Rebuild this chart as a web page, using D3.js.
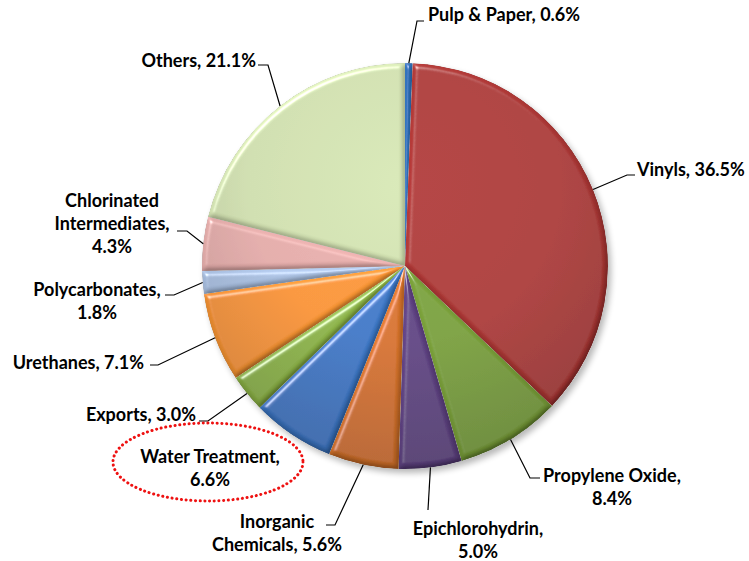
<!DOCTYPE html>
<html><head><meta charset="utf-8">
<script src="https://cdn.jsdelivr.net/npm/d3@7"></script>
<style>
html,body{margin:0;padding:0;background:#fff;}
text{font-family:Lato,"Open Sans",sans-serif;font-weight:700;font-size:18px;fill:#000;}
</style></head>
<body><svg id="chart" width="749" height="561"></svg>
<script>
const categories = ["Pulp & Paper","Vinyls","Propylene Oxide","Epichlorohydrin","Inorganic Chemicals","Water Treatment","Exports","Urethanes","Polycarbonates","Chlorinated Intermediates","Others"];
const values = [0.6,36.5,8.4,5.0,5.6,6.6,3.0,7.1,1.8,4.3,21.1];
const valueLabels = ["0.6%","36.5%","8.4%","5.0%","5.6%","6.6%","3.0%","7.1%","1.8%","4.3%","21.1%"];
const colors = ["#2F6EB5","#AB3735","#7AA03A","#604384","#D6732A","#3D78C6","#8DB447","#F79433","#A9BFE0","#E2ABA9","#CEDDAE"];

// label layout: text lines, anchor, position, leader elbow
const labelLayout = [
  {lines:["Pulp & Paper, 0.6%"], anchor:"start", x:428, y:15, elbow:[[417,21],[424,21]]},
  {lines:["Vinyls, 36.5%"], anchor:"start", x:637, y:170, elbow:[[627,175],[635,175]]},
  {lines:["Propylene Oxide,","8.4%"], anchor:"middle", x:612, y:476, elbow:[[530,478],[540,478]]},
  {lines:["Epichlorohydrin,","5.0%"], anchor:"middle", x:478, y:529, elbow:[[428,510]]},
  {lines:["Inorganic","Chemicals, 5.6%"], anchor:"middle", x:277, y:522, elbow:[[335,525],[326,525]]},
  {lines:["Water Treatment,","6.6%"], anchor:"middle", x:210, y:457, elbow:null},
  {lines:["Exports, 3.0%"], anchor:"end", x:196, y:415, elbow:[[208,421],[199,421]]},
  {lines:["Urethanes, 7.1%"], anchor:"end", x:144, y:363, elbow:[[158,365],[150,365]]},
  {lines:["Polycarbonates,","1.8%"], anchor:"middle", x:97, y:290, elbow:[[174,295],[165,295]]},
  {lines:["Chlorinated","Intermediates,","4.3%"], anchor:"middle", x:112, y:201, elbow:[[187,231],[177,231]]},
  {lines:["Others, 21.1%"], anchor:"end", x:256, y:61, elbow:[[268,65],[258,65]]}
];

const svg = d3.select("#chart");
const cx = 405, cy = 266, r = 203;
const defs = svg.append("defs");

// bevel filter
const f = defs.append("filter").attr("id","bevel").attr("x","-5%").attr("y","-5%").attr("width","110%").attr("height","110%");
f.append("feGaussianBlur").attr("in","SourceAlpha").attr("stdDeviation",2.6).attr("result","blur");
const dl = f.append("feDiffuseLighting").attr("in","blur").attr("surfaceScale",3.5)
  .attr("diffuseConstant",0.72).attr("lighting-color","#fff").attr("result","diff");
dl.append("feDistantLight").attr("azimuth",235).attr("elevation",45);
f.append("feComposite").attr("in","SourceGraphic").attr("in2","diff").attr("operator","arithmetic")
  .attr("k1",1).attr("k2",0.49).attr("k3",0).attr("k4",0).attr("result","lit");
const sl = f.append("feSpecularLighting").attr("in","blur").attr("surfaceScale",3.5)
  .attr("specularConstant",0.7).attr("specularExponent",40).attr("lighting-color","#fff").attr("result","spec");
sl.append("feDistantLight").attr("azimuth",235).attr("elevation",45);
f.append("feComposite").attr("in","spec").attr("in2","SourceAlpha").attr("operator","in").attr("result","specIn");
f.append("feComposite").attr("in","lit").attr("in2","specIn").attr("operator","arithmetic")
  .attr("k1",0).attr("k2",1).attr("k3",0.8).attr("k4",0).attr("result","out");
f.append("feComposite").attr("in","out").attr("in2","SourceAlpha").attr("operator","in");

// shadow
const sh = defs.append("filter").attr("id","shadow").attr("x","-20%").attr("y","-20%").attr("width","140%").attr("height","140%");
sh.append("feGaussianBlur").attr("stdDeviation",3);

// gradients per slice
colors.forEach((c,i)=>{
  const gr = defs.append("radialGradient").attr("id","g"+i)
    .attr("gradientUnits","userSpaceOnUse").attr("cx",0).attr("cy",-80).attr("r",r*1.4);
  const base = d3.color(c);
  gr.append("stop").attr("offset","0%").attr("stop-color",base.brighter(0.12));
  gr.append("stop").attr("offset","55%").attr("stop-color",base);
  gr.append("stop").attr("offset","100%").attr("stop-color",base.darker(0.45));
});

const g = svg.append("g").attr("transform",`translate(${cx},${cy})`);
g.append("circle").attr("cx",3).attr("cy",4).attr("r",r).attr("fill","#000").attr("opacity",0.28).attr("filter","url(#shadow)");
g.append("circle").attr("r",r).attr("fill","#fff");

const pie = d3.pie().sort(null).value(d=>d)(values);
const arc = d3.arc().innerRadius(0).outerRadius(r);
const edge = d3.arc().innerRadius(r).outerRadius(r);

g.selectAll("path.slice").data(pie).join("path").attr("class","slice")
  .attr("d",arc).attr("fill",(d,i)=>`url(#g${i})`).attr("filter","url(#bevel)");

// leader lines
pie.forEach((d,i)=>{
  const L = labelLayout[i];
  if(!L.elbow) return;
  const p = edge.centroid(d);
  const pts = [[cx+p[0],cy+p[1]], ...L.elbow];
  svg.append("path").attr("d",d3.line()(pts)).attr("fill","none").attr("stroke","#000").attr("stroke-width",1.2);
});

// labels
labelLayout.forEach((L,i)=>{
  const lh = 23;
  L.lines.forEach((t,j)=>{
    svg.append("text").attr("x",L.x).attr("y",L.y + j*lh).attr("dy","0.35em")
      .attr("text-anchor",L.anchor).text(t);
  });
});

// highlight ellipse around Water Treatment
svg.append("ellipse").attr("cx",208).attr("cy",462).attr("rx",95).attr("ry",39)
  .attr("fill","none").attr("stroke","#ee1111").attr("stroke-width",3)
  .attr("stroke-dasharray","0.1 4.6").attr("stroke-linecap","round");
</script></body></html>
